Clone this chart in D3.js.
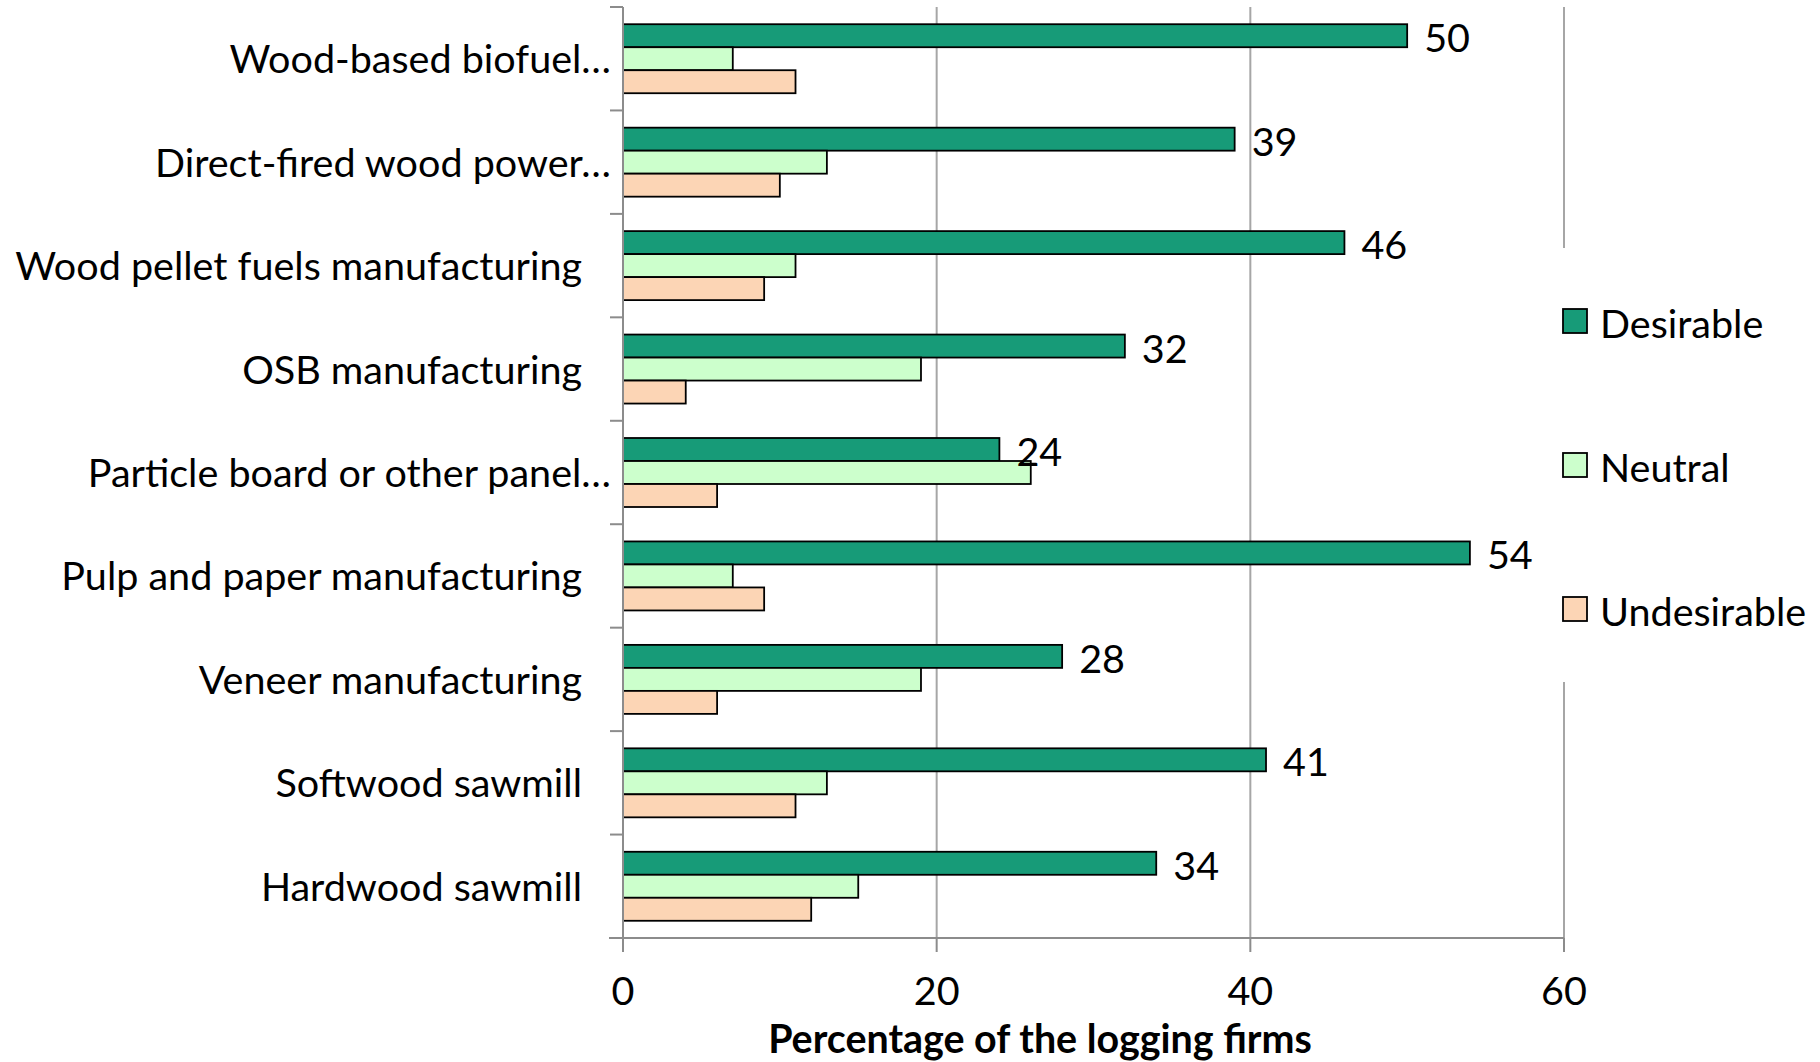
<!DOCTYPE html>
<html><head><meta charset="utf-8">
<script src="https://cdn.jsdelivr.net/npm/d3@7"></script>
<style>body{margin:0;background:#fff}svg{display:block}text{font-family:Lato,"Open Sans",sans-serif;fill:#000}</style>
</head><body>
<svg id="c" width="1820" height="1062"></svg>
<script>
const categories = ["Wood-based biofuel…","Direct-fired wood power…","Wood pellet fuels manufacturing","OSB manufacturing","Particle board or other panel…","Pulp and paper manufacturing","Veneer manufacturing","Softwood sawmill","Hardwood sawmill"];
const truncated = [true,true,false,false,true,false,false,false,false];
const seriesNames = ["Desirable","Neutral","Undesirable"];
const desirable = [50,39,46,32,24,54,28,41,34];
const neutral = [7,13,11,19,26,7,19,13,15];
const undesirable = [11,10,9,4,6,9,6,11,12];
const xTicks = [0,20,40,60];
const axisTitle = "Percentage of the logging firms";
const colors = ["#179B78","#CCFFCC","#FCD5B5"];

const svg = d3.select("#c");
function fit(str, target, weight){
  const t = svg.append("text").attr("font-size",100).attr("font-weight",weight||"normal").text(str);
  const w = t.node().getComputedTextLength(); t.remove();
  return 100*target/w;
}
const fs = fit("Wood pellet fuels manufacturing",567);
const fsTitle = fit(axisTitle,544,"bold");

const L=623,R=1564,T=7,B=938;
const x = d3.scaleLinear().domain([0,60]).range([L,R]);
const y = d3.scaleBand().domain(categories).range([T,B]);
const series=[desirable,neutral,undesirable];
const barH=23;
const inner = d3.scaleBand().domain(seriesNames).range([0,barH*3]);

svg.append("g").selectAll("line").data(xTicks.filter(d=>d>0)).join("line")
  .attr("x1",d=>x(d)).attr("x2",d=>x(d)).attr("y1",T).attr("y2",B)
  .attr("stroke","#a6a6a6").attr("stroke-width",2);

const g = svg.append("g");
categories.forEach((c,i)=>{
  const off = y(c)+(y.bandwidth()-barH*3)/2;
  seriesNames.forEach((s,j)=>{
    g.append("rect").attr("x",x(0)).attr("y",off+inner(s))
     .attr("width",x(series[j][i])-x(0)).attr("height",barH)
     .attr("fill",colors[j]).attr("stroke","#000").attr("stroke-width",1.8);
  });
  svg.append("text").attr("x",x(desirable[i])+17).attr("y",off+inner("Desirable")+barH/2+1)
    .attr("dominant-baseline","central").attr("font-size",fs).text(desirable[i]);
  svg.append("text").attr("x",truncated[i]?611:582).attr("y",y(c)+y.bandwidth()/2-1)
    .attr("text-anchor","end").attr("dominant-baseline","central").attr("font-size",fs).text(c);
});

const axG = svg.append("g").attr("stroke","#8c8c8c").attr("stroke-width",2);
axG.append("line").attr("x1",L).attr("x2",L).attr("y1",T).attr("y2",B+14);
axG.append("line").attr("x1",609).attr("x2",R).attr("y1",B).attr("y2",B);
const yTickPos = categories.map(c=>y(c)).concat([B]);
axG.selectAll(".yt").data(yTickPos).join("line").attr("x1",610).attr("x2",L).attr("y1",d=>d).attr("y2",d=>d);
axG.selectAll(".xt").data(xTicks).join("line").attr("x1",d=>x(d)).attr("x2",d=>x(d)).attr("y1",B).attr("y2",B+14);

svg.append("g").selectAll("text").data(xTicks).join("text")
  .attr("x",d=>x(d)).attr("y",989).attr("text-anchor","middle").attr("dominant-baseline","central")
  .attr("font-size",fs).text(d=>d);
svg.append("text").attr("x",1040).attr("y",1053).attr("text-anchor","middle")
  .attr("font-size",fsTitle).attr("font-weight","bold").text(axisTitle);

svg.append("rect").attr("x",1545).attr("y",248).attr("width",275).attr("height",434).attr("fill","#fff");
const leg = svg.append("g");
seriesNames.forEach((s,j)=>{
  const cy = 321+144*j;
  leg.append("rect").attr("x",1563).attr("y",cy-12).attr("width",24).attr("height",24)
    .attr("fill",colors[j]).attr("stroke","#000").attr("stroke-width",1.8);
  leg.append("text").attr("x",1600).attr("y",cy+1).attr("dominant-baseline","central").attr("font-size",fs).text(s);
});
</script>
</body></html>
